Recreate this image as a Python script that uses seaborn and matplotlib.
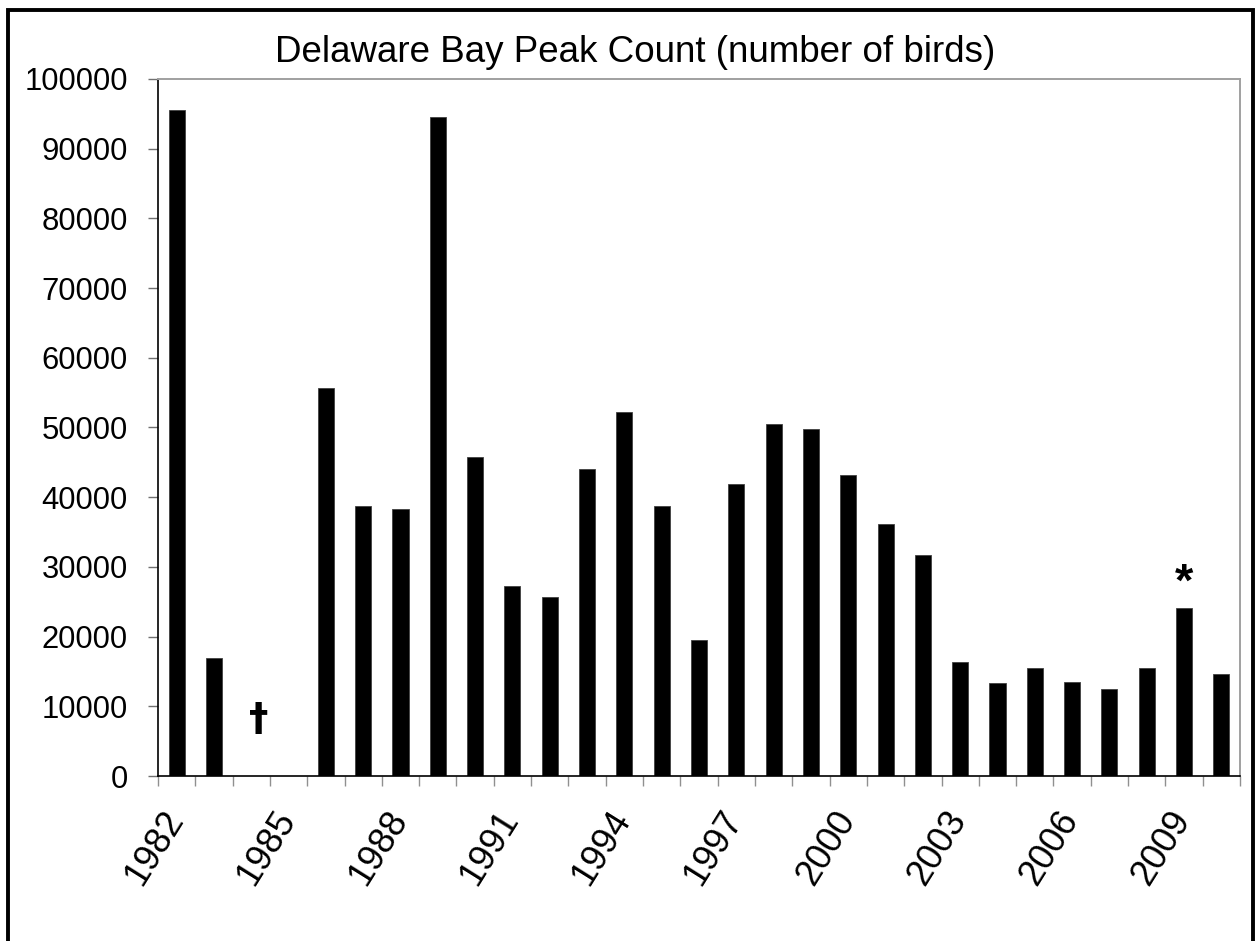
import numpy as np
import pandas as pd
import matplotlib
matplotlib.use("Agg")
import matplotlib.pyplot as plt
from matplotlib.patches import Rectangle
from matplotlib.transforms import ScaledTranslation
import seaborn as sns

# Peak shorebird counts on Delaware Bay, 1982-2010 (no survey in 1984-1985)
years = [str(y) for y in range(1982, 2011)]
counts = [95600, 16900, np.nan, np.nan, 55700, 38800, 38300, 94600, 45800,
          27300, 25700, 44100, 52200, 38700, 19550, 41950, 50450, 49850,
          43200, 36200, 31750, 16300, 13350, 15500, 13500, 12450, 15500,
          24100, 14600]
label_years = years[::3]
y_ticks = list(range(0, 100001, 10000))

# footnote marks
dagger_year, dagger_y = "1984", 8000
star_year, star_y = "2009", 27600

title = "Delaware Bay Peak Count (number of birds)"

sns.set_style("white")
plt.rcParams["font.family"] = ["Liberation Sans", "DejaVu Sans"]
plt.rcParams["text.color"] = "black"
plt.rcParams["xtick.labelcolor"] = "black"
plt.rcParams["ytick.labelcolor"] = "black"

W, H = 1257, 941
fig = plt.figure(figsize=(W / 100, H / 100), dpi=100)
fig.patch.set_facecolor("white")
ax = fig.add_axes([158 / W, 1 - 776 / H, (1240 - 158) / W, (776 - 79) / H])

df = pd.DataFrame({"year": years, "count": counts})
sns.barplot(data=df, x="year", y="count", order=years, color="black",
            saturation=1, width=0.43, errorbar=None, ax=ax,
            edgecolor="#404040", linewidth=0.6)

ax.set_xlim(-0.5, len(years) - 0.5)
ax.set_ylim(0, 100000)
ax.set_xlabel("")
ax.set_ylabel("")

# y axis
ax.set_yticks(y_ticks)
ax.set_yticklabels([str(v) for v in y_ticks], fontsize=22.3, color="black")
ax.tick_params(axis="y", which="major", direction="out", length=7.2,
               width=1, color="#707070", pad=14.4, left=True)

# x axis: labels every third year, tick marks between categories
pos = [years.index(y) for y in label_years]
ax.set_xticks(pos)
ax.set_xticklabels(label_years, fontsize=26, rotation=58, ha="right",
                   va="center", rotation_mode="anchor", color="black")
ax.tick_params(axis="x", which="major", length=0, pad=27)
shift = ScaledTranslation(-0.8 / 72, 0, fig.dpi_scale_trans)
for lab in ax.get_xticklabels():
    lab.set_transform(lab.get_transform() + shift)
ax.set_xticks(np.arange(-0.5, len(years), 1.0), minor=True)
ax.tick_params(axis="x", which="minor", direction="out", length=7.2,
               width=1, color="#909090", bottom=True)

for side in ["top", "right"]:
    ax.spines[side].set_color("#a0a0a0")
    ax.spines[side].set_linewidth(1.4)
for side in ["left", "bottom"]:
    ax.spines[side].set_color("black")
    ax.spines[side].set_linewidth(1.2)
ax.grid(False)

ax.text(years.index(dagger_year) + 0.2, dagger_y, "\u2020", fontsize=28,
        fontweight="bold", family="DejaVu Sans", ha="center", va="center")
ax.text(years.index(star_year), star_y, "*", fontsize=34,
        fontweight="bold", ha="center", va="center")

fig.text(635 / W, 1 - 53 / H, title, fontsize=26.5, ha="center", va="center")

# outer frame
fig.patches.append(Rectangle((8 / W, -0.05), (1253 - 8) / W, 1.05 - 10 / H,
                             transform=fig.transFigure, fill=False,
                             edgecolor="black", linewidth=2.8))

fig.savefig("out.png", dpi=100)
